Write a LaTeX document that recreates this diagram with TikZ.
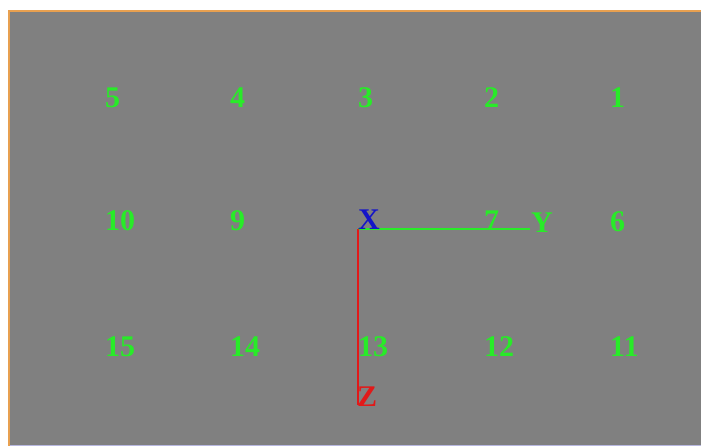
\documentclass[tikz,border=0pt]{standalone}
\usepackage{fontspec}
\setmainfont{Liberation Serif}
\definecolor{bggray}{RGB}{128,128,128}
\definecolor{frameorange}{RGB}{232,160,80}
\definecolor{lblgreen}{RGB}{40,235,40}
\definecolor{axblue}{RGB}{20,20,200}
\definecolor{axred}{RGB}{225,25,25}
\begin{document}
\begin{tikzpicture}[x=1pt,y=-1pt,
  lbl/.style={anchor=base west,inner sep=0pt,font=\fontsize{30}{30}\selectfont\bfseries,text=lblgreen},
  axlbl/.style={anchor=base west,inner sep=0pt,font=\fontsize{30}{30}\selectfont\bfseries}]
\useasboundingbox (0,0) rectangle (701,446);
\fill[white] (0,0) rectangle (701,446);
\fill[bggray] (9,11) rectangle (701,446);
\draw[frameorange,line width=2pt] (9,446) -- (9,11) -- (701,11);
\draw[gray!60!blue!40,line width=1pt] (10,445) -- (701,445);
% row 1
\node[lbl] (n5) at (105,108) {5};
\node[lbl] (n4) at (230,108) {4};
\node[lbl] (n3) at (358,108) {3};
\node[lbl] (n2) at (484,108) {2};
\node[lbl] (n1) at (610,108) {1};
% row 2
\node[lbl] (n10) at (105,231) {10};
\node[lbl] (n9) at (230,231) {9};
\node[lbl] (n7) at (484,231) {7};
\node[lbl] (n6) at (610,232) {6};
% row 3
\node[lbl] (n15) at (105,356) {15};
\node[lbl] (n14) at (230,356) {14};
\node[lbl] (n13) at (358,356) {13};
\node[lbl] (n12) at (484,356) {12};
\node[lbl] (n11) at (610,356) {11};
% axes
\coordinate (o) at (358,229);
\coordinate (yend) at (530,229);
\coordinate (zend) at (358,405);
\draw[lblgreen,line width=2pt] (o) -- (yend);
\draw[axred,line width=2pt] (o) -- (zend);
\node[axlbl,text=axblue] (xl) at (358,230) {X};
\node[axlbl,text=lblgreen] (yl) at (531,233) {Y};
\node[axlbl,text=axred] (zl) at (357,406) {Z};
\end{tikzpicture}
\end{document}
